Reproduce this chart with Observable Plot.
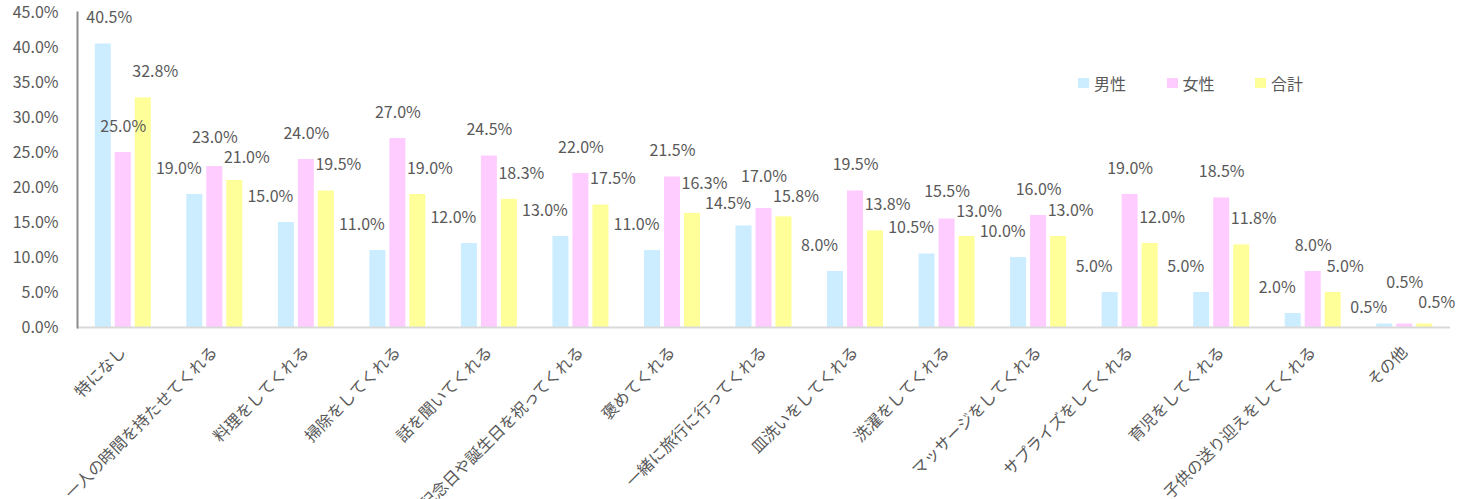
<!DOCTYPE html>
<html><head><meta charset="utf-8">
<script src="https://cdn.jsdelivr.net/npm/d3@7"></script>
<script src="https://cdn.jsdelivr.net/npm/@observablehq/plot@0.6"></script>
<style>
body{margin:0;background:#fff;}
#wrap{position:relative;width:1470px;height:499px;overflow:hidden;font-family:"Noto Sans CJK JP","Noto Sans",sans-serif;}
#legend{position:absolute;left:1078px;top:73px;display:flex;font-size:16px;color:#595959;line-height:20px;}
#legend .item{display:flex;align-items:center;width:88.5px;}
#legend .sw{width:11px;height:10px;margin-right:5px;}
</style></head><body>
<div id="wrap"><div id="chart"></div><div id="legend"></div></div>
<script>
const categories = ["特になし","一人の時間を持たせてくれる","料理をしてくれる","掃除をしてくれる","話を聞いてくれる","記念日や誕生日を祝ってくれる","褒めてくれる","一緒に旅行に行ってくれる","皿洗いをしてくれる","洗濯をしてくれる","マッサージをしてくれる","サプライズをしてくれる","育児をしてくれる","子供の送り迎えをしてくれる","その他"];
const male   = [40.5,19.0,15.0,11.0,12.0,13.0,11.0,14.5,8.0,10.5,10.0,5.0,5.0,2.0,0.5];
const female = [25.0,23.0,24.0,27.0,24.5,22.0,21.5,17.0,19.5,15.5,16.0,19.0,18.5,8.0,0.5];
const total  = [32.8,21.0,19.5,19.0,18.3,17.5,16.3,15.8,13.8,13.0,13.0,12.0,11.8,5.0,0.5];
const seriesNames = ["男性","女性","合計"];
const seriesColors = ["#CCECFF","#FFCCFF","#FFFF99"];
const yTicks = [0,5,10,15,20,25,30,35,40,45];

const W = 1470, H = 499, mt = 12, mb = 172, ml = 77, mr = 20;
const yMax = 45;
const ppu = (H - mt - mb) / yMax;
const bw = (W - ml - mr) / categories.length;
const barW = 16, step = 20;
const fmt = v => v.toFixed(1) + "%";
const seriesValues = [male, female, total];
const barDx = [-step, 0, step];
const labelDx = [-36, 0, 32];
const labelLift = 26, minLift = 15, boxH = 20;
const estW = s => s.length * 9.6;

// label layout: simple vertical relaxation to avoid overlapping labels
const labels = [];
categories.forEach((c, i) => {
  seriesValues.forEach((arr, k) => {
    const v = arr[i], t = fmt(v), w = estW(t);
    let cx = i * bw + bw / 2 + labelDx[k];
    const minX = w / 2 + 8;
    const shift = cx < minX ? Math.round(minX - cx) : 0;
    labels.push({category: c, k, value: v, text: t, w, cx: cx + shift, shift, h: v * ppu + labelLift, hMin: v * ppu + minLift});
  });
});
for (let iter = 0; iter < 80; iter++) {
  for (let a = 0; a < labels.length; a++) for (let b = a + 1; b < labels.length; b++) {
    const A = labels[a], B = labels[b];
    if (Math.abs(A.cx - B.cx) >= (A.w + B.w) / 2) continue;
    const d = Math.abs(A.h - B.h);
    if (d >= boxH) continue;
    const push = (boxH - d) / 2 + 0.1;
    let up = A, dn = B;
    if (B.h > A.h || (B.h === A.h && B.k === 1)) { up = B; dn = A; }
    up.h += push;
    dn.h = Math.max(dn.hMin, dn.h - push);
  }
}
labels.forEach(l => l.labelY = l.h / ppu);

const rows = [];
categories.forEach((c, i) => seriesValues.forEach((arr, k) => rows.push({category: c, k, value: arr[i]})));

const marks = [];
seriesNames.forEach((s, k) => {
  const d = rows.filter(r => r.k === k);
  marks.push(Plot.barY(d, {x: "category", y: "value", fill: seriesColors[k], dx: barDx[k], insetLeft: (bw - barW) / 2, insetRight: (bw - barW) / 2}));
});
marks.push(Plot.ruleY([0], {stroke: "#d9d9d9", strokeWidth: 2}));
marks.push(Plot.frame({anchor: "left", stroke: "#8c8c8c", strokeWidth: 2}));
const groups = d3.group(labels, l => labelDx[l.k] + l.shift);
for (const [dx, d] of groups) {
  marks.push(Plot.text(d, {x: "category", y: "labelY", text: "text", dx, fill: "#595959", fontSize: 16, lineAnchor: "middle"}));
}

const chart = Plot.plot({
  width: W, height: H,
  marginTop: mt, marginBottom: mb, marginLeft: ml, marginRight: mr,
  style: {fontFamily: '"Noto Sans CJK JP","Noto Sans",sans-serif', fontSize: "16px", color: "#595959", background: "#fff", overflow: "visible"},
  x: {domain: categories, padding: 0, round: false, tickSize: 0, tickRotate: -45, tickPadding: 22, label: null},
  y: {domain: [0, yMax], ticks: yTicks, tickFormat: fmt, tickSize: 0, tickPadding: 19, label: null},
  marks
});
document.getElementById("chart").appendChild(chart);

const legend = document.getElementById("legend");
seriesNames.forEach((s, k) => {
  const it = document.createElement("div"); it.className = "item";
  const sw = document.createElement("span"); sw.className = "sw"; sw.style.background = seriesColors[k];
  const t = document.createElement("span"); t.textContent = s;
  it.appendChild(sw); it.appendChild(t); legend.appendChild(it);
});
</script>
</body></html>
